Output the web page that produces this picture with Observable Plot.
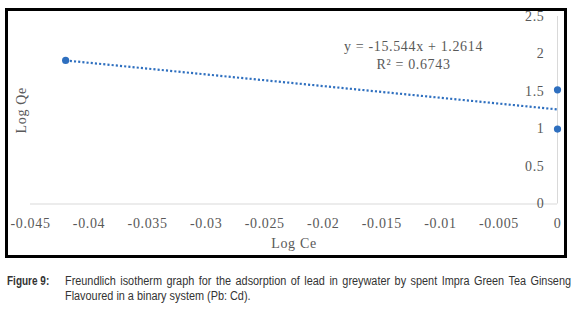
<!DOCTYPE html>
<html>
<head>
<meta charset="utf-8">
<script src="https://cdn.jsdelivr.net/npm/d3@7"></script>
<script src="https://cdn.jsdelivr.net/npm/@observablehq/plot@0.6"></script>
<style>
  html, body { margin: 0; padding: 0; background: #fff; }
  body { width: 579px; height: 309px; position: relative; overflow: hidden; }
  #chart { position: absolute; left: 0; top: 0; }
  #chart svg text { letter-spacing: 0.65px; }
  #frame { position: absolute; left: 5px; top: 8px; width: 556px; height: 244px; border: 3px solid #000; pointer-events: none; }
  #caption { position: absolute; left: 0; top: 274px; width: 579px;
    font-family: "Liberation Sans", Arial, sans-serif;
    font-size: 12.5px; line-height: 15.3px; color: #333; }
  #caption .lab { position: absolute; left: 7px; top: 0; font-weight: bold; white-space: nowrap;
    transform: scaleX(0.8); transform-origin: 0 0; }
  #caption .body { position: absolute; left: 65px; top: 0; width: 581.6px; transform: scaleX(0.87); transform-origin: 0 0; }
  #caption .l1 { text-align: justify; text-align-last: justify; white-space: nowrap; }
  #caption .l2 { white-space: nowrap; }
</style>
</head>
<body>
<div id="chart"></div>
<div id="frame"></div>
<div id="caption">
  <span class="lab">Figure 9:</span>
  <div class="body">
    <div class="l1">Freundlich isotherm graph for the adsorption of lead in greywater by spent Impra Green Tea Ginseng</div>
    <div class="l2">Flavoured in a binary system (Pb: Cd).</div>
  </div>
</div>
<script>
// Data
const logCe = [-0.042, 0, 0];
const logQe = [1.914, 1.523, 0.999];
const xTicks = [-0.045, -0.04, -0.035, -0.03, -0.025, -0.02, -0.015, -0.01, -0.005, 0];
const yTicks = [0, 0.5, 1, 1.5, 2, 2.5];
const equationText = "y = -15.544x + 1.2614\nR² = 0.6743";
const xTitle = "Log Ce";
const yTitle = "Log Qe";

const points = logCe.map((x, i) => ({x, y: logQe[i]}));
const blue = "#2e6fbf";
const textGray = "#595959";
const axisGray = "#d9d9d9";

const chart = Plot.plot({
  width: 579,
  height: 262,
  marginLeft: 30,
  marginRight: 22,
  marginTop: 16,
  marginBottom: 58.5,
  style: { fontFamily: "'Liberation Serif', 'Times New Roman', serif", fontSize: "14px", color: textGray, background: "transparent", overflow: "visible" },
  x: { domain: [-0.045, 0] },
  y: { domain: [0, 2.5] },
  marks: [
    Plot.ruleY([0], { stroke: axisGray, strokeWidth: 1 }),
    Plot.ruleX([0], { stroke: axisGray, strokeWidth: 1 }),
    Plot.axisX({ ticks: xTicks, tickSize: 0, tickPadding: 14, tickFormat: d => String(d), fill: textGray, label: null }),
    Plot.axisY({ anchor: "right", ticks: yTicks, tickSize: 0, tickPadding: -13, textAnchor: "end", tickFormat: d => String(d), fill: textGray, label: null }),
    Plot.linearRegressionY(points, { x: "x", y: "y", ci: 0, stroke: blue, strokeWidth: 2.2, strokeDasharray: "2.1 2.1", strokeLinecap: "butt" }),
    Plot.dot(points, { x: "x", y: "y", r: 3.6, fill: blue, stroke: "none" }),
    Plot.text([equationText], { frameAnchor: "top-right", dx: -144, dy: 22, textAnchor: "middle", lineAnchor: "top", lineHeight: 1.29, fill: textGray, text: d => d }),
    Plot.text([xTitle], { frameAnchor: "bottom", dy: 44, lineAnchor: "bottom", fill: textGray, text: d => d }),
    Plot.text([yTitle], { frameAnchor: "left", dx: -9, rotate: -90, textAnchor: "middle", lineAnchor: "middle", fill: textGray, text: d => d })
  ]
});
document.getElementById("chart").appendChild(chart);
</script>
</body>
</html>
